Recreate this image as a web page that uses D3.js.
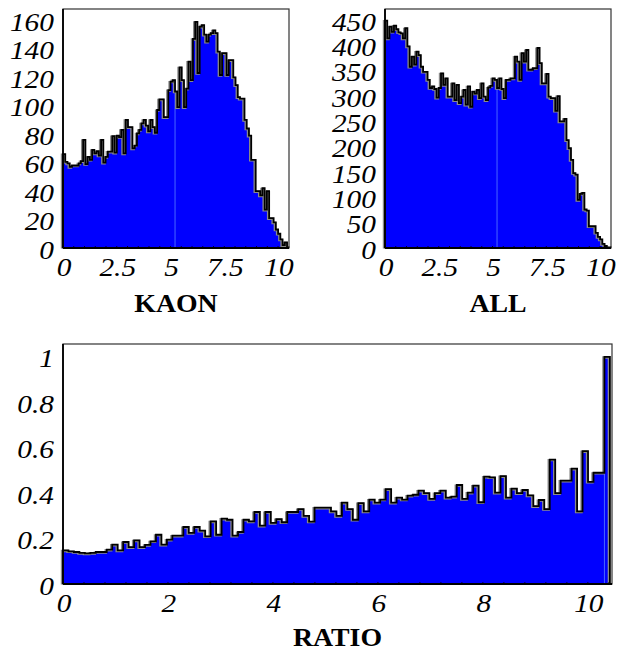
<!DOCTYPE html>
<html><head><meta charset="utf-8">
<script src="https://cdn.jsdelivr.net/npm/d3@7/dist/d3.min.js"></script>
<style>
html,body{margin:0;padding:0;background:#fff;}
svg{display:block;}
.tick{font-family:"Liberation Serif","Times New Roman",serif;font-style:italic;font-size:26px;fill:#000;}
.title{font-family:"Liberation Serif","Times New Roman",serif;font-weight:bold;font-size:26px;fill:#000;}
</style></head>
<body>
<script>
// ---- data (100 bins over 0 .. binMax) ----
const binMax = 10.42;
const kaon = [66,60.6,59.5,57,58,58,58,59.5,61,76,
59,64,62,69,66.5,68,65,76,60,64,
67.7,67.7,78.7,67,79,78,83,66.5,90,85,
85,70,72,80.6,83,87.6,90,86,82,90,
85,81,97,104.5,104.5,92,92,111,117,118,
110,99,127,118,99,112,131,118,147,159,
123,155.6,156.7,150,145,150,151,153,151,138,
121.6,137,137,121.6,132,132,120,114.5,106,105,
105,90,84,79,62,62,40,40,37,42,
27,40,21,21,18,13,10,6,2,4];
const all = [449,414,437,427,439,432,426,424,414,434,
398,358,378,362,388,381,358,348,348,332,
316,319,314,297,316,345,322,335,299,299,
325,292,322,286,299,312,283,319,279,309,
305,312,296,325,299,292,317,320,335,332,
316,335,314,296,332,332,335,335,378,368,
332,385,368,391,352,352,355,355,395,365,
325,325,344,299,296,296,271,300,250,250,
255,213,197,174,148,145,95,107,109,76,
74,43,43,43,30,22,17,8,4,1.4];
const ratio = [0.148,0.144,0.141,0.137,0.135,0.137,0.141,0.141,0.151,0.173,
0.148,0.185,0.162,0.192,0.162,0.172,0.188,0.217,0.173,0.195,
0.213,0.213,0.251,0.225,0.251,0.235,0.21,0.276,0.217,0.288,
0.283,0.213,0.229,0.283,0.276,0.317,0.257,0.317,0.269,0.286,
0.272,0.317,0.317,0.33,0.30,0.275,0.336,0.336,0.336,0.32,
0.30,0.358,0.33,0.283,0.356,0.32,0.372,0.358,0.372,0.418,
0.358,0.38,0.372,0.389,0.393,0.411,0.40,0.375,0.40,0.411,
0.38,0.385,0.436,0.375,0.402,0.433,0.36,0.473,0.47,0.402,
0.475,0.38,0.42,0.40,0.414,0.39,0.343,0.37,0.33,0.548,
0.40,0.455,0.455,0.508,0.32,0.585,0.45,0.49,0.49,1.0];
const topXTicks = [0,2.5,5,7.5,10];
const kaonYTicks = [0,20,40,60,80,100,120,140,160];
const allYTicks = [0,50,100,150,200,250,300,350,400,450];
const ratioXTicks = [0,2,4,6,8,10];
const ratioYTicks = [0,0.2,0.4,0.6,0.8,1];
const titles = ["KAON","ALL","RATIO"];

const W = 617, H = 652;
const svg = d3.select("body").append("svg").attr("width",W).attr("height",H);
const SX = 1.13; // horizontal widening of tick glyphs

function panel(cfg){
  const {data, x0, x1, y0, y1, xMax, yMax, xTicks, yTicks, title, titleY, xLabY, seamBin, fmt} = cfg;
  const n = data.length, bw = binMax / n;
  const x = d3.scaleLinear().domain([0, xMax]).range([x0, x1]);
  const y = d3.scaleLinear().domain([0, yMax]).range([y1, y0]);
  const g = svg.append("g");
  const pts = [[0,0]];
  data.forEach((v,i)=>{ pts.push([i*bw, v]); pts.push([(i+1)*bw, v]); });
  pts.push([n*bw, 0]);
  const line = d3.line().x(d=>x(d[0])).y(d=>y(d[1]));
  g.append("path").attr("d", line(pts)+"Z").attr("fill","#0000ff").attr("stroke","none");
  g.append("line").attr("x1",x(seamBin*bw)).attr("x2",x(seamBin*bw))
    .attr("y1",y(0)).attr("y2",y(Math.min(data[seamBin], data[seamBin-1])))
    .attr("stroke","#4a66ff").attr("stroke-width",1);
  g.append("path").attr("d", line(pts)).attr("fill","none")
    .attr("stroke","#8a8a8a").attr("stroke-width",2.4).attr("transform","translate(-1,0.6)");
  g.append("path").attr("d", line(pts)).attr("fill","none")
    .attr("stroke","#000").attr("stroke-width",1.8).attr("stroke-linejoin","miter");
  g.append("rect").attr("x",x0).attr("y",y0).attr("width",x1-x0).attr("height",y1-y0)
    .attr("fill","none").attr("stroke","#333").attr("stroke-width",1.2);
  g.append("line").attr("x1",x0).attr("x2",x0).attr("y1",y0).attr("y2",y1).attr("stroke","#000").attr("stroke-width",1.8);
  g.append("line").attr("x1",x0).attr("x2",x1).attr("y1",y1).attr("y2",y1).attr("stroke","#000").attr("stroke-width",1.8);
  const minor = d3.range(0, xMax, xTicks[1]/5);
  g.selectAll(null).data(minor).enter().append("line")
    .attr("x1",d=>x(d)).attr("x2",d=>x(d)).attr("y1",y1).attr("y2",y1-2)
    .attr("stroke","#000").attr("stroke-width",0.8);
  g.selectAll(null).data(xTicks).enter().append("text").attr("class","tick")
    .attr("transform",d=>`translate(${x(d)+1},${xLabY}) scale(${SX},1)`)
    .attr("text-anchor","middle").text(d=>String(d));
  g.selectAll(null).data(yTicks).enter().append("text").attr("class","tick")
    .attr("transform",d=>`translate(${x0-9},${y(d)+10.5}) scale(${SX},1)`)
    .attr("text-anchor","end").text(fmt);
  g.append("text").attr("class","title")
    .attr("transform",`translate(${(x0+x1)/2},${titleY}) scale(1.07,1)`)
    .attr("text-anchor","middle").text(title);
}

panel({data:kaon, x0:63, x1:289, y0:9, y1:248, xMax:10.51, yMax:168,
  xTicks:topXTicks, yTicks:kaonYTicks, title:titles[0], titleY:312, xLabY:276, seamBin:50, fmt:d=>String(d)});
panel({data:all, x0:385, x1:611, y0:9, y1:248, xMax:10.51, yMax:472,
  xTicks:topXTicks, yTicks:allYTicks, title:titles[1], titleY:312, xLabY:276, seamBin:50, fmt:d=>String(d)});
panel({data:ratio, x0:63, x1:612, y0:344, y1:584, xMax:10.46, yMax:1.057,
  xTicks:ratioXTicks, yTicks:ratioYTicks, title:titles[2], titleY:646, xLabY:612, seamBin:99, fmt:d=>String(d)});
</script>
</body></html>
